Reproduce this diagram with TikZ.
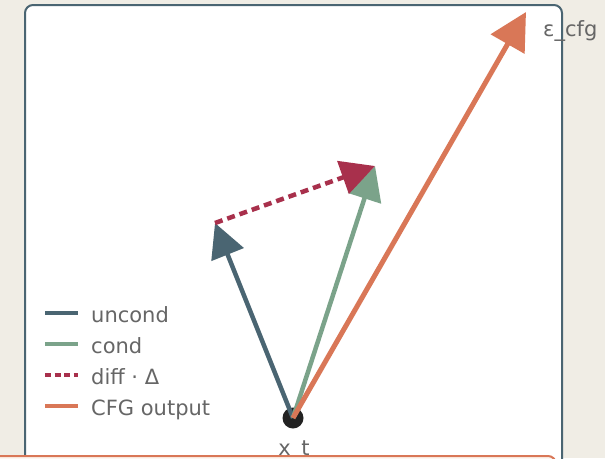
\documentclass[tikz,border=0pt]{standalone}
\usepackage{fontspec}
\setmainfont{DejaVu Sans}
\usetikzlibrary{arrows.meta}

\definecolor{paper}{HTML}{F0EDE5}
\definecolor{slate}{HTML}{4A6572}
\definecolor{sage}{HTML}{7BA38A}
\definecolor{crimson}{HTML}{A8304C}
\definecolor{coral}{HTML}{D97757}
\definecolor{ink}{HTML}{666666}
\definecolor{dotc}{HTML}{222222}
\definecolor{cream}{HTML}{FDF6F0}

\tikzset{
  lbl/.style={font=\fontsize{21}{25}\selectfont, text=ink, inner sep=0pt},
  vec/.style={line width=4.5pt, -{Triangle[length=34pt, width=34pt]}},
  key/.style={line width=4pt},
}

\begin{document}
\begin{tikzpicture}[x=1pt, y=-1pt]
  \useasboundingbox (0,0) rectangle (605,458);
  \fill[paper] (0,0) rectangle (605,458);
  % panel
  \draw[slate, line width=2pt, fill=white, rounded corners=8pt] (25,5) rectangle (562,500);

  % points
  \node[circle, fill=dotc, minimum size=21pt, inner sep=0pt] (xt) at (293,418) {};
  \coordinate (u) at (215,223);
  \coordinate (c) at (375,166);
  \coordinate (o) at (526,12);
  \node[lbl, anchor=base] (xtlbl) at (294,455) {x\_t};
  \node[lbl, anchor=base west] (eps) at (543,36) {ε\_cfg};

  % vectors
  \draw[vec, slate] (xt.center) -- (u);
  \draw[vec, sage] (xt.center) -- (c);
  \draw[vec, crimson, dash pattern=on 8pt off 5pt] (u) -- (c);
  \draw[vec, coral, line width=5pt, -{Triangle[length=37pt, width=38pt]}] (xt.center) -- (o);

  % legend
  \node[lbl, anchor=base west] (l1) at (91,322) {uncond};
  \node[lbl, anchor=base west] (l2) at (91,353) {cond};
  \node[lbl, anchor=base west] (l3) at (91,384) {diff · Δ};
  \node[lbl, anchor=base west] (l4) at (91,415) {CFG output};
  \draw[key, slate] (45,313) -- (78,313);
  \draw[key, sage] (45,344) -- (78,344);
  \draw[key, crimson, dash pattern=on 6pt off 3.5pt] (45,375) -- (78,375);
  \draw[key, coral] (45,406) -- (78,406);

  % next box
  \draw[coral, line width=2pt, fill=cream, rounded corners=8pt] (-10,456) rectangle (556,520);
\end{tikzpicture}
\end{document}
